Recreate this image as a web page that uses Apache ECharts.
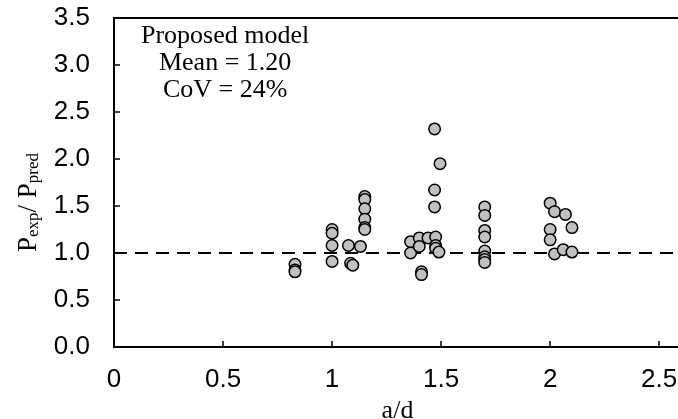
<!DOCTYPE html>
<html>
  <head>
    <meta charset="utf-8" />
    <title>Pexp/Ppred vs a/d</title>
    <script src="https://cdn.jsdelivr.net/npm/echarts@6.0.0/dist/echarts.min.js"></script>
    <style>
      body {
        margin: 0;
        padding: 0;
        background: #fff;
      }
      #main {
        width: 678px;
        height: 419px;
      }
    </style>
  </head>
  <body>
    <div id="main"></div>
    <script type="text/javascript">
      // a/d of each test and the ratio Pexp/Ppred
      var adValues = [
        0.83, 0.83, 0.83,
        1.0, 1.0, 1.0, 1.0,
        1.075, 1.085, 1.095, 1.13,
        1.15, 1.15, 1.15, 1.15, 1.15, 1.15,
        1.36, 1.36, 1.4, 1.4, 1.41, 1.41, 1.44,
        1.47, 1.47, 1.47, 1.475, 1.475, 1.475, 1.495, 1.49,
        1.7, 1.7, 1.7, 1.7, 1.7, 1.7, 1.7, 1.7,
        2.0, 2.0, 2.0, 2.02, 2.02, 2.07, 2.06, 2.1, 2.1
      ];
      var ratioValues = [
        0.88, 0.82, 0.8,
        1.25, 1.21, 1.08, 0.91,
        1.08, 0.89, 0.87, 1.07,
        1.6, 1.57, 1.47, 1.36, 1.27, 1.25,
        1.12, 1.0, 1.16, 1.07, 0.8, 0.77, 1.16,
        2.32, 1.67, 1.49, 1.17, 1.08, 1.05, 1.95, 1.01,
        1.49, 1.4, 1.24, 1.17, 1.02, 0.96, 0.93, 0.9,
        1.53, 1.25, 1.14, 1.44, 0.99, 1.41, 1.035, 1.27, 1.01
      ];
      var xTicks = [0, 0.5, 1, 1.5, 2, 2.5];
      var yTicks = [0, 0.5, 1, 1.5, 2, 2.5, 3, 3.5];
      var refLine = [[0, 1], [2.6, 1]];
      var noteLines = ["Proposed model", "Mean = 1.20", "CoV = 24%"];

      var points = adValues.map(function (x, i) {
        return [x, ratioValues[i]];
      });

      var myChart = echarts.init(document.getElementById("main"));

      var option = {
        animation: false,
        grid: {
          left: 114,
          top: 18,
          width: 567,
          height: 329,
          show: true,
          borderColor: "#000",
          borderWidth: 2,
          outerBoundsMode: "none",
          containLabel: false
        },
        xAxis: {
          type: "value",
          min: 0,
          max: 2.6,
          interval: 0.5,
          name: "a/d",
          nameLocation: "middle",
          nameGap: 49,
          nameTextStyle: {
            fontFamily: "Liberation Serif",
            fontSize: 26,
            color: "#000"
          },
          axisLine: { lineStyle: { color: "#000", width: 2 } },
          axisTick: { inside: true, length: 6, lineStyle: { color: "#000", width: 1.5 } },
          axisLabel: {
            fontFamily: "Liberation Sans",
            fontSize: 26,
            color: "#000",
            margin: 20,
            showMaxLabel: false,
            formatter: function (v) {
              return xTicks.indexOf(v) >= 0 ? String(v) : "";
            }
          },
          splitLine: { show: false }
        },
        yAxis: {
          type: "value",
          min: 0,
          max: 3.5,
          interval: 0.5,
          axisLine: { lineStyle: { color: "#000", width: 2 } },
          axisTick: { inside: true, length: 6, lineStyle: { color: "#000", width: 1.5 } },
          axisLabel: {
            fontFamily: "Liberation Sans",
            fontSize: 26,
            color: "#000",
            margin: 24,
            formatter: function (v) {
              return yTicks.indexOf(v) >= 0 ? v.toFixed(1) : "";
            }
          },
          splitLine: { show: false }
        },
        graphic: [
          {
            type: "text",
            left: 15,
            top: 153,
            rotation: Math.PI / 2,
            style: {
              text: "{p|P}{s|exp}{p|/ P}{s|pred}",
              rich: {
                p: { fontFamily: "Liberation Serif", fontSize: 27, color: "#000", verticalAlign: "bottom", lineHeight: 30 },
                s: { fontFamily: "Liberation Serif", fontSize: 17, color: "#000", verticalAlign: "bottom", lineHeight: 23 }
              }
            }
          },
          {
            type: "group",
            left: 141,
            top: 23,
            children: noteLines.map(function (t, i) {
              return {
                type: "text",
                x: 87,
                y: i * 27,
                style: {
                  text: t,
                  fontFamily: "Liberation Serif",
                  fontSize: 26,
                  fill: "#000",
                  align: "center"
                }
              };
            })
          }
        ],
        series: [
          {
            name: "ref",
            type: "line",
            data: refLine,
            symbol: "none",
            silent: true,
            z: 1,
            lineStyle: { color: "#000", width: 2, type: [13, 8] }
          },
          {
            name: "tests",
            type: "scatter",
            data: points,
            symbol: "circle",
            symbolSize: 11.5,
            z: 3,
            itemStyle: {
              color: "#c0c0c0",
              borderColor: "#000",
              borderWidth: 1.5,
              opacity: 1
            }
          }
        ]
      };

      myChart.setOption(option);
    </script>
  </body>
</html>
